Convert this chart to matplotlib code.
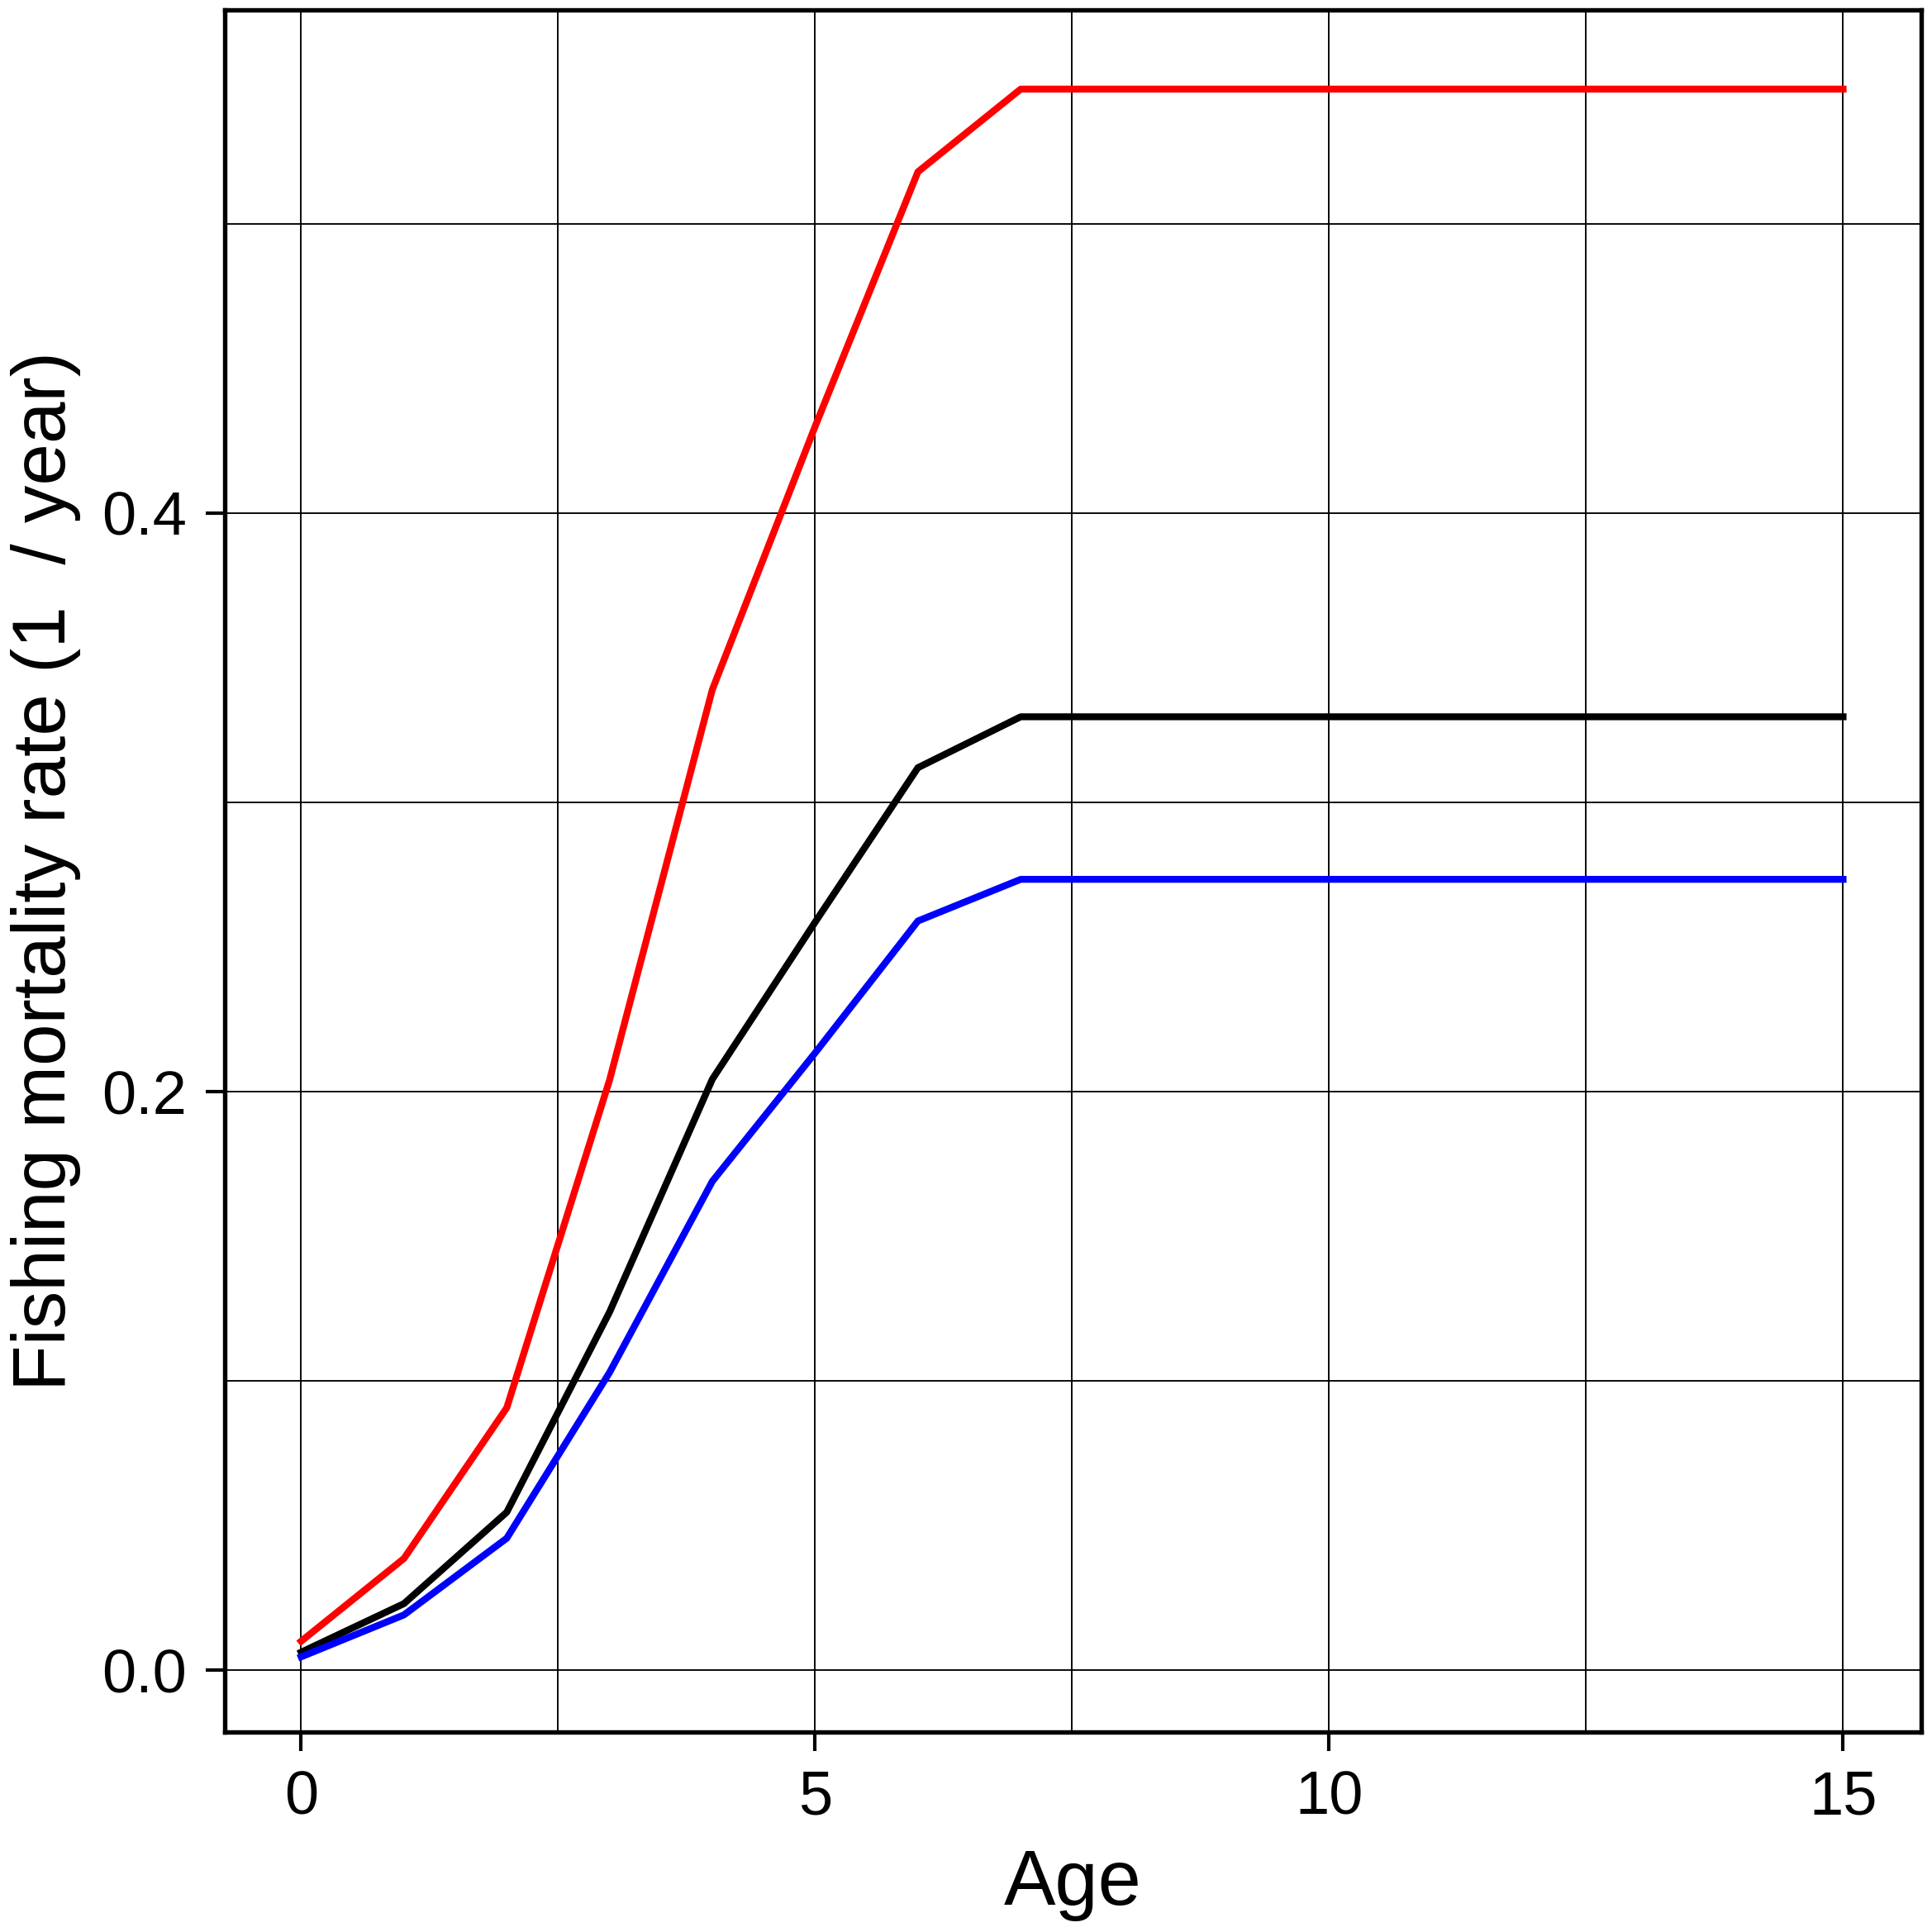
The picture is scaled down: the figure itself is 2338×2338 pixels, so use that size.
import numpy as np
import matplotlib
matplotlib.use("Agg")
import matplotlib.pyplot as plt

plt.rcParams['font.family'] = ['Liberation Sans', 'DejaVu Sans']

age = list(range(16))
f_red = [0.0100, 0.0386, 0.0907, 0.204, 0.339, 0.430, 0.518, 0.5466,
         0.5466, 0.5466, 0.5466, 0.5466, 0.5466, 0.5466, 0.5466, 0.5466]
f_black = [0.0062, 0.0230, 0.0546, 0.1238, 0.2043, 0.2586, 0.312, 0.3296,
           0.3296, 0.3296, 0.3296, 0.3296, 0.3296, 0.3296, 0.3296, 0.3296]
f_blue = [0.0046, 0.0191, 0.0456, 0.1029, 0.169, 0.2134, 0.259, 0.2734,
          0.2734, 0.2734, 0.2734, 0.2734, 0.2734, 0.2734, 0.2734, 0.2734]

x_ticks = [0, 5, 10, 15]
y_ticks = [0.0, 0.2, 0.4]
y_tick_labels = ["0.0", "0.2", "0.4"]
x_grid = [0, 2.5, 5, 7.5, 10, 12.5, 15]
y_grid = [0.0, 0.1, 0.2, 0.3, 0.4, 0.5]

fig = plt.figure(figsize=(2338 / 300, 2338 / 300), dpi=300)
ax = fig.add_axes([0.1163, 0.1035, 0.9944 - 0.1163, 0.9949 - 0.1035])

for g in x_grid:
    ax.axvline(g, color='black', lw=0.45, zorder=1)
for g in y_grid:
    ax.axhline(g, color='black', lw=0.45, zorder=1)

ax.plot(age, f_red, color='#ff0000', lw=2.0, zorder=3)
ax.plot(age, f_black, color='black', lw=2.0, zorder=3)
ax.plot(age, f_blue, color='#0000ff', lw=2.0, zorder=3)

ax.set_xlim(-0.744, 15.76)
ax.set_ylim(-0.0214, 0.574)
ax.set_xticks(x_ticks)
ax.set_xticklabels([str(t) for t in x_ticks])
ax.set_yticks(y_ticks)
ax.set_yticklabels(y_tick_labels)
ax.tick_params(axis='both', direction='out', length=5.5, width=1.0,
               labelsize=17.8, pad=5.5, color='black')

for s in ax.spines.values():
    s.set_linewidth(1.3)
    s.set_color('black')

ax.set_xlabel("Age", fontsize=22.5, labelpad=6)
ax.set_ylabel("Fishing mortality rate (1  / year)", fontsize=21.8, labelpad=6)

fig.savefig("out.png", dpi=300, facecolor='white')
